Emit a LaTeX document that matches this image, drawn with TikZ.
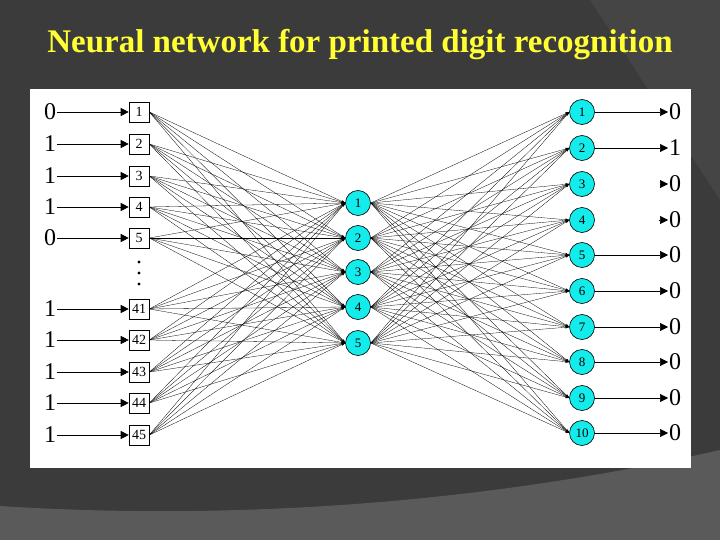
\documentclass[tikz,border=0pt]{standalone}
\usepackage{fontspec}
\setmainfont{Liberation Serif}
\usepackage{xcolor}
\usepackage{tikz}
\usetikzlibrary{arrows.meta, positioning, calc}

\definecolor{slidebg}{HTML}{3B3B3B}
\definecolor{slideband}{HTML}{454545}
\definecolor{slidefloor}{HTML}{5A5A5A}
\definecolor{titleyellow}{HTML}{FFFF33}
\definecolor{neuroncyan}{HTML}{14EBEB}

\begin{document}
\begin{tikzpicture}[x=1pt, y=-1pt,
    every node/.style={font=\fontsize{14}{16}\selectfont},
    inbox/.style={rectangle, draw, minimum size=20pt, inner sep=0pt, fill=white, line width=0.6pt},
    neuron/.style={circle, draw, minimum size=25pt, inner sep=0pt, fill=neuroncyan, line width=0.6pt, font=\fontsize{13}{15}\selectfont},
    bitlabel/.style={inner sep=1pt, font=\fontsize{24}{26}\selectfont},
    arr/.style={-{Triangle[length=8pt, width=8pt]}, line width=0.6pt},
    wire/.style={-{Stealth[length=4pt, width=2.5pt]}, line width=0.3pt}
]
    % slide background
    \useasboundingbox (0,0) rectangle (720,540);
    \fill[slidebg] (0,0) rectangle (720,540);
    \fill[slideband] (590,0) -- (720,0) -- (720,200) -- cycle;
    \fill[slidefloor] (0,506) .. controls (250,522) and (500,500) .. (720,450) -- (720,540) -- (0,540) -- cycle;
    \fill[white] (30,89) rectangle (691,468);

    \node (title) [anchor=base, text=titleyellow, font=\fontsize{33}{36}\selectfont\bfseries] at (360,53) {Neural network for printed digit recognition};

    % input layer
    \foreach \i/\y/\b in {1/112/0, 2/144/1, 3/176/1, 4/207/1, 5/238/0, 41/309/1, 42/340/1, 43/372/1, 44/403/1, 45/435/1} {
        \node (i\i) [inbox] at (139,\y) {\i};
        \node (x\i) [bitlabel] at (50,\y) {\b};
        \draw[arr] (x\i) -- (i\i);
    }
    \foreach \y in {262, 273, 284}
        \fill (139,\y) circle (1.6pt);

    % hidden layer
    \foreach \h/\y in {1/203, 2/238, 3/272, 4/307, 5/343}
        \node (h\h) [neuron] at (358,\y) {\h};

    % output layer
    \foreach \o/\y/\b in {1/112/0, 2/148/1, 3/184/0, 4/220/0, 5/255/0, 6/291/0, 7/327/0, 8/362/0, 9/398/0, 10/433/0} {
        \node (o\o) [neuron] at (582,\y) {\o};
        \node (y\o) [bitlabel, anchor=west] at (668,\y) {\b};
    }
    \foreach \o in {1, 2, 5, 6, 7, 8, 9, 10}
        \draw[arr] (o\o) -- (y\o);
    \draw[arr, shorten <=65pt] (o3) -- (y3);
    \draw[arr, shorten <=64pt] (o4) -- (y4);

    % connections
    \foreach \i in {1, 2, 3, 4, 5, 41, 42, 43, 44, 45}
        \foreach \h in {1, ..., 5}
            \draw[wire] (i\i.east) -- (h\h.west);
    \foreach \h in {1, ..., 5}
        \foreach \o in {1, ..., 10}
            \draw[wire] (h\h.east) -- (o\o.west);
\end{tikzpicture}
\end{document}
